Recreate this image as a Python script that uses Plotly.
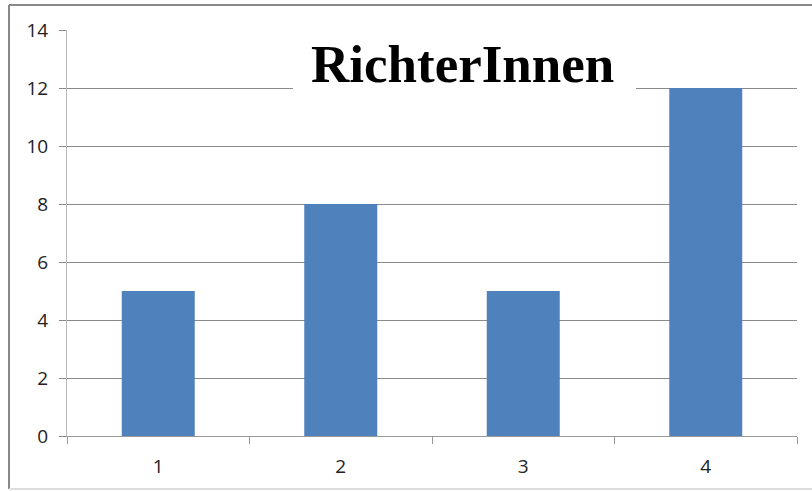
import plotly.graph_objects as go

categories = ["1", "2", "3", "4"]
values = [5, 8, 5, 12]
title_text = "RichterInnen"

W, H = 812, 491
OFF = 0  # body margin removed via post_script
# plot area in window pixels: x 67..797, y 30..436
ml = 67 - OFF
mt = 30 - OFF
mr = W - (797 - OFF)
mb = H - (436 - OFF)

fig = go.Figure(go.Bar(x=categories, y=values, marker=dict(color="#4F81BD", line=dict(width=0)),
                       width=0.4))

fig.update_layout(
    width=W, height=H,
    margin=dict(l=ml, r=mr, t=mt, b=mb),
    paper_bgcolor="white", plot_bgcolor="white",
    showlegend=False,
    font=dict(family="Open Sans, Liberation Sans, sans-serif", size=19, color="#222"),
)
fig.update_xaxes(type="category", tickson="boundaries", ticks="outside", ticklen=7,
                 tickcolor="#999", showline=True, linecolor="#999", linewidth=1,
                 showgrid=False, ticklabelstandoff=13, range=[-0.5, 3.5])
fig.update_yaxes(range=[0, 14], dtick=2, ticks="outside", ticklen=7, tickcolor="#888",
                 showline=True, linecolor="#bbb", linewidth=1,
                 showgrid=True, gridcolor="#8a8a8a", gridwidth=1,
                 zeroline=False, ticklabelstandoff=7)

pw = W - ml - mr
ph = H - mt - mb
def px_x(x):
    return (x - OFF - ml) / pw
def px_y(y):
    return (H - mb - (y - OFF)) / ph

# white title background covering gridlines
fig.add_shape(type="rect", xref="paper", yref="paper", layer="above",
              x0=px_x(293), x1=px_x(636), y0=px_y(22), y1=px_y(102),
              fillcolor="white", line=dict(width=0))
fig.add_annotation(xref="paper", yref="paper", x=px_x(462), y=px_y(64),
                   text="<b>" + title_text + "</b>", showarrow=False,
                   font=dict(family="Liberation Serif, serif", size=53, color="black"),
                   xanchor="center", yanchor="middle")

# outer chart border
fig.add_shape(type="line", xref="paper", yref="paper", x0=px_x(9), x1=px_x(830),
              y0=px_y(5), y1=px_y(5), line=dict(color="#888", width=2))
fig.add_shape(type="line", xref="paper", yref="paper", x0=px_x(9), x1=px_x(9),
              y0=px_y(5), y1=px_y(489), line=dict(color="#888", width=2))
fig.add_shape(type="line", xref="paper", yref="paper", x0=px_x(9), x1=px_x(830),
              y0=px_y(489), y1=px_y(489), line=dict(color="#ddd", width=2))

fig.write_html("out.html", config={"displayModeBar": False},
               post_script="document.body.style.margin='0';")
